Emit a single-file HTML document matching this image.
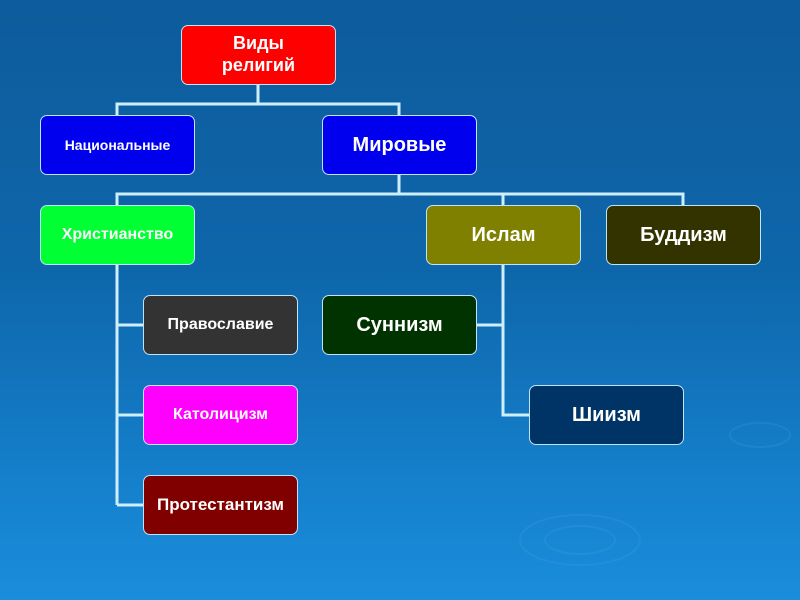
<!DOCTYPE html>
<html><head><meta charset="utf-8"><style>
body{margin:0;width:800px;height:600px;overflow:hidden;background:linear-gradient(180deg,#0d5c9c 0%,#0e66aa 45%,#1580cc 80%,#1a8ddb 100%);position:relative;font-family:"Liberation Sans",sans-serif}
.b{position:absolute;border:1px solid #bfe4f5;border-radius:7px;color:#fff;font-weight:bold;display:flex;align-items:center;justify-content:center;text-align:center;font-size:18px;box-sizing:border-box;width:155px;height:60px;line-height:1.2}
svg{position:absolute;left:0;top:0}
</style></head><body>
<svg width="800" height="600"><g stroke="#cdeefc" stroke-width="3" fill="none">
<path d="M258 84V104M117 115V104H399V115"/>
<path d="M399 175V194M117 205V194H683V205M503 194V205"/>
<path d="M117 265V505M117 325H143M117 415H143M117 505H143"/>
<path d="M503 265V415H529M476 325H503"/>
</g>
<g fill="none" stroke="#4aa6e6" stroke-width="2" opacity="0.2"><ellipse cx="580" cy="540" rx="60" ry="25"/><ellipse cx="580" cy="540" rx="35" ry="14"/><ellipse cx="760" cy="435" rx="30" ry="12"/></g>
</svg>
<div class="b" style="left:181px;top:25px;background:#f00">Виды<br>религий</div>
<div class="b" style="left:40px;top:115px;background:#0000ee;font-size:14px">Национальные</div>
<div class="b" style="left:322px;top:115px;background:#0000ee;font-size:20px">Мировые</div>
<div class="b" style="left:40px;top:205px;background:#00ff33;font-size:16px">Христианство</div>
<div class="b" style="left:426px;top:205px;background:#808000;font-size:20px">Ислам</div>
<div class="b" style="left:606px;top:205px;background:#333300;font-size:20px">Буддизм</div>
<div class="b" style="left:143px;top:295px;background:#333;font-size:16px">Православие</div>
<div class="b" style="left:322px;top:295px;background:#003300;font-size:20px">Суннизм</div>
<div class="b" style="left:143px;top:385px;background:#ff00ff;font-size:16px">Католицизм</div>
<div class="b" style="left:529px;top:385px;background:#003366;font-size:20px">Шиизм</div>
<div class="b" style="left:143px;top:475px;background:#800000;font-size:17px">Протестантизм</div>
</body></html>
